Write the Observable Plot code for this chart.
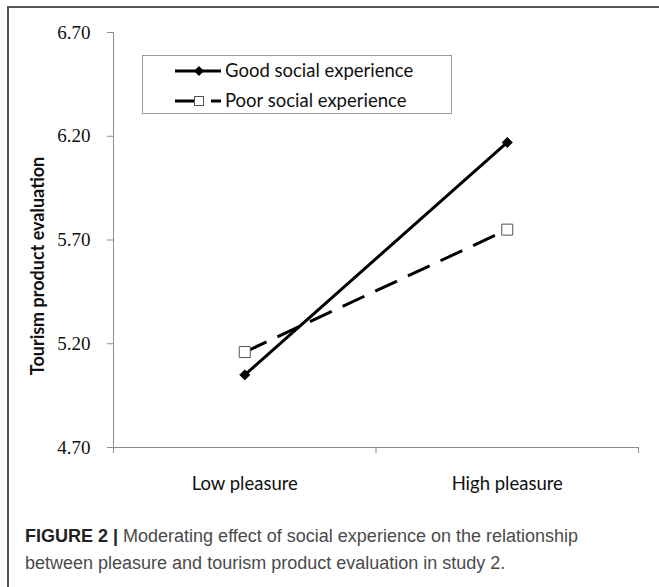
<!DOCTYPE html>
<html>
<head>
<meta charset="utf-8">
<script src="https://cdn.jsdelivr.net/npm/d3@7"></script>
<script src="https://cdn.jsdelivr.net/npm/@observablehq/plot@0.6"></script>
<style>
  html, body { margin: 0; padding: 0; background: #fff; }
  #wrap { position: relative; width: 659px; height: 587px; overflow: hidden; background: #fff; }
  #frame { position: absolute; left: 7px; top: 6px; right: -10px; bottom: -10px; border-top: 2px solid #555; border-left: 2px solid #555; }
  #chart { position: absolute; left: 0; top: 0; }
  #legend { position: absolute; left: 0; top: 0; }
  #caption { position: absolute; left: 25px; top: 523px; font-family: "Liberation Sans", Arial, sans-serif; font-size: 18px; line-height: 27px; color: #4a4a4a; white-space: nowrap; }
  #caption b { color: #222; }
</style>
</head>
<body>
<div id="wrap">
  <div id="frame"></div>
  <div id="chart"></div>
  <svg id="legend" width="659" height="140"></svg>
  <div id="caption"><b>FIGURE 2 |</b> Moderating effect of social experience on the relationship<br>between pleasure and tourism product evaluation in study 2.</div>
</div>
<script>
const categories = ["Low pleasure", "High pleasure"];
const seriesNames = ["Good social experience", "Poor social experience"];
const goodValues = [5.05, 6.17];
const poorValues = [5.16, 5.75];
const yTicks = [4.70, 5.20, 5.70, 6.20, 6.70];
const yLabel = "Tourism product evaluation";

const good = categories.map((c, i) => ({x: i + 0.5, y: goodValues[i], cat: c}));
const poor = categories.map((c, i) => ({x: i + 0.5, y: poorValues[i], cat: c}));

const axisGray = "#8c8c8c";
const calibriLike = "Lato, 'Open Sans', sans-serif";

const chart = Plot.plot({
  width: 659,
  height: 505,
  marginLeft: 113,
  marginRight: 21,
  marginTop: 32,
  marginBottom: 58,
  style: {background: "transparent", color: "#111", overflow: "visible"},
  x: {domain: [0, categories.length]},
  y: {domain: [yTicks[0], yTicks[yTicks.length - 1]]},
  marks: [
    Plot.ruleY([yTicks[0]], {stroke: axisGray, strokeWidth: 1}),
    Plot.ruleX([0], {stroke: axisGray, strokeWidth: 1}),
    Plot.axisY({ticks: yTicks, tickFormat: d3.format(".2f"), tickSize: 6, tickPadding: 17, stroke: axisGray, fill: "#111",
      fontSize: 19, fontFamily: "'Liberation Serif', 'Times New Roman', serif", label: null}),
    Plot.axisX({ticks: d3.range(categories.length + 1), tickSize: 6, tickFormat: () => "", stroke: axisGray, label: null}),
    Plot.axisX({ticks: categories.map((c, i) => i + 0.5), tickSize: 0, tickPadding: 29,
      tickFormat: d => categories[Math.round(d - 0.5)], fill: "#111", fontSize: 18.5, fontFamily: calibriLike, label: null}),
    Plot.text([yLabel], {text: d => d, frameAnchor: "left", textAnchor: "middle", rotate: -90, dx: -75, dy: 26,
      fontWeight: "bold", fontSize: 18, fontFamily: calibriLike, fill: "#111"}),
    Plot.line(good, {x: "x", y: "y", stroke: "black", strokeWidth: 3}),
    Plot.line(poor, {x: "x", y: "y", stroke: "black", strokeWidth: 3, strokeDasharray: "24,12", strokeLinecap: "butt"}),
    Plot.dot(good, {x: "x", y: "y", symbol: "diamond2", r: 4.5, fill: "black", stroke: "black", strokeWidth: 1}),
    Plot.dot(poor, {x: "x", y: "y", symbol: "square", r: 6.2, fill: "white", stroke: "#555", strokeWidth: 1})
  ]
});
document.getElementById("chart").appendChild(chart);

// Legend
const lg = d3.select("#legend");
lg.append("rect").attr("x", 142.5).attr("y", 55.5).attr("width", 309).attr("height", 58)
  .attr("fill", "white").attr("stroke", "#999").attr("stroke-width", 1);
// Good row
lg.append("line").attr("x1", 175).attr("x2", 221).attr("y1", 71).attr("y2", 71).attr("stroke", "black").attr("stroke-width", 3);
lg.append("path").attr("d", d3.symbol(d3.symbolDiamond2, 64)()).attr("transform", "translate(199,71)").attr("fill", "black");
lg.append("text").attr("x", 225).attr("y", 71).attr("dy", "0.35em").attr("font-family", calibriLike).attr("font-size", 18.5).attr("fill", "#111").text(seriesNames[0]);
// Poor row
lg.append("line").attr("x1", 175).attr("x2", 194).attr("y1", 101).attr("y2", 101).attr("stroke", "black").attr("stroke-width", 3);
lg.append("line").attr("x1", 211).attr("x2", 221).attr("y1", 101).attr("y2", 101).attr("stroke", "black").attr("stroke-width", 3);
lg.append("rect").attr("x", 194.5).attr("y", 96.5).attr("width", 9).attr("height", 9).attr("fill", "white").attr("stroke", "#555").attr("stroke-width", 1);
lg.append("text").attr("x", 225).attr("y", 101).attr("dy", "0.35em").attr("font-family", calibriLike).attr("font-size", 18.5).attr("fill", "#111").text(seriesNames[1]);
</script>
</body>
</html>
